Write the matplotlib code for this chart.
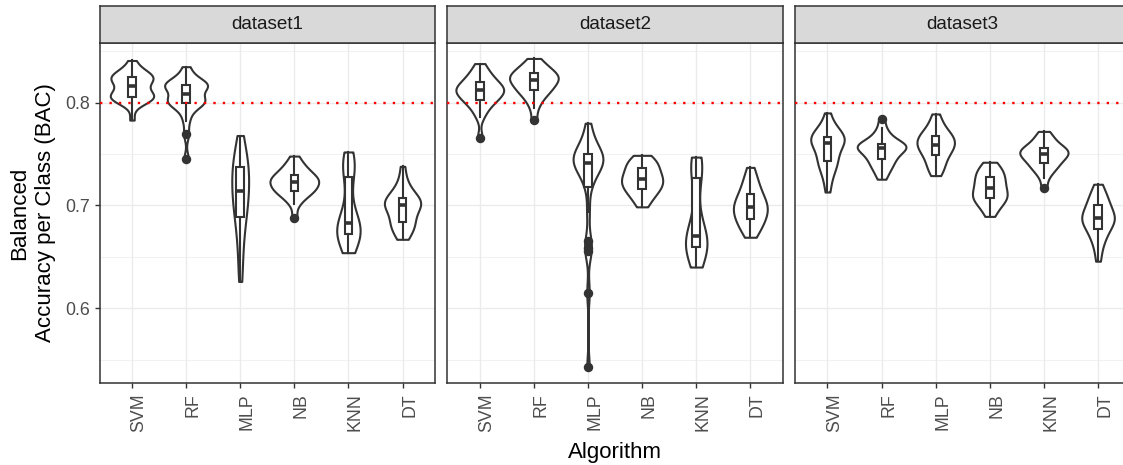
import numpy as np
import matplotlib.pyplot as plt
from matplotlib.transforms import ScaledTranslation

plt.rcParams['font.family'] = ['Liberation Sans', 'DejaVu Sans']

algorithms = ['SVM', 'RF', 'MLP', 'NB', 'KNN', 'DT']
datasets = ['dataset1', 'dataset2', 'dataset3']
threshold = 0.8

d1_svm = [0.783, 0.800, 0.802, 0.803, 0.804, 0.805, 0.805, 0.806, 0.807, 0.808, 0.810, 0.812, 0.816,
          0.819, 0.821, 0.822, 0.823, 0.824, 0.825, 0.826, 0.827, 0.828, 0.830, 0.834, 0.841]
d1_rf = [0.745, 0.769, 0.782, 0.790, 0.795, 0.799, 0.800, 0.800, 0.801, 0.802, 0.803, 0.805, 0.808,
         0.812, 0.815, 0.816, 0.816, 0.817, 0.817, 0.818, 0.819, 0.821, 0.824, 0.828, 0.835]
d1_mlp = [0.626, 0.641, 0.655, 0.667, 0.676, 0.683, 0.689, 0.694, 0.699, 0.703, 0.707, 0.711, 0.714,
          0.718, 0.722, 0.726, 0.729, 0.733, 0.737, 0.740, 0.744, 0.748, 0.753, 0.759, 0.768]
d1_nb = [0.688, 0.701, 0.706, 0.709, 0.711, 0.713, 0.714, 0.716, 0.717, 0.718, 0.720, 0.721, 0.723,
         0.724, 0.725, 0.726, 0.727, 0.728, 0.730, 0.732, 0.734, 0.736, 0.739, 0.742, 0.748]
d1_knn = [0.654, 0.659, 0.663, 0.666, 0.668, 0.670, 0.672, 0.674, 0.676, 0.677, 0.679, 0.681, 0.683,
          0.685, 0.688, 0.693, 0.703, 0.716, 0.728, 0.734, 0.738, 0.741, 0.744, 0.747, 0.752]
d1_dt = [0.667, 0.671, 0.675, 0.678, 0.680, 0.682, 0.684, 0.687, 0.690, 0.693, 0.696, 0.698, 0.700,
         0.701, 0.702, 0.703, 0.704, 0.705, 0.707, 0.709, 0.712, 0.715, 0.719, 0.726, 0.738]

d2_svm = [0.766, 0.786, 0.792, 0.796, 0.799, 0.801, 0.803, 0.805, 0.806, 0.808, 0.809, 0.811, 0.812,
          0.813, 0.814, 0.815, 0.816, 0.818, 0.820, 0.822, 0.824, 0.826, 0.829, 0.833, 0.838]
d2_rf = [0.7835, 0.795, 0.801, 0.805, 0.808, 0.810, 0.812, 0.814, 0.815, 0.817, 0.819, 0.820, 0.822,
         0.823, 0.824, 0.825, 0.826, 0.827, 0.829, 0.830, 0.832, 0.834, 0.836, 0.839, 0.843]
d2_mlp = [0.5425, 0.615, 0.6554, 0.6587, 0.665, 0.694, 0.718, 0.726, 0.731, 0.735, 0.738, 0.740, 0.7415,
          0.743, 0.744, 0.745, 0.746, 0.748, 0.750, 0.752, 0.755, 0.758, 0.763, 0.770, 0.780]
d2_nb = [0.6986, 0.703, 0.707, 0.710, 0.712, 0.714, 0.716, 0.718, 0.719, 0.721, 0.722, 0.724, 0.7255,
         0.727, 0.728, 0.730, 0.732, 0.734, 0.736, 0.738, 0.740, 0.742, 0.744, 0.746, 0.7487]
d2_knn = [0.640, 0.646, 0.650, 0.653, 0.655, 0.658, 0.660, 0.662, 0.664, 0.665, 0.667, 0.669, 0.6706,
          0.673, 0.677, 0.683, 0.695, 0.712, 0.727, 0.733, 0.737, 0.740, 0.742, 0.744, 0.747]
d2_dt = [0.669, 0.673, 0.677, 0.680, 0.682, 0.685, 0.687, 0.689, 0.691, 0.693, 0.695, 0.697, 0.698,
         0.700, 0.702, 0.704, 0.706, 0.708, 0.711, 0.714, 0.717, 0.721, 0.725, 0.730, 0.737]

d3_svm = [0.713, 0.723, 0.730, 0.735, 0.738, 0.741, 0.743, 0.746, 0.749, 0.752, 0.755, 0.758, 0.761,
          0.762, 0.763, 0.764, 0.765, 0.766, 0.767, 0.769, 0.771, 0.773, 0.776, 0.781, 0.790]
d3_rf = [0.7255, 0.731, 0.735, 0.738, 0.740, 0.743, 0.745, 0.747, 0.749, 0.751, 0.752, 0.754, 0.7555,
         0.756, 0.757, 0.758, 0.759, 0.7595, 0.760, 0.762, 0.764, 0.767, 0.770, 0.775, 0.7838]
d3_mlp = [0.729, 0.733, 0.737, 0.740, 0.743, 0.746, 0.749, 0.751, 0.753, 0.755, 0.756, 0.758, 0.759,
          0.761, 0.762, 0.764, 0.765, 0.767, 0.768, 0.770, 0.772, 0.775, 0.778, 0.783, 0.789]
d3_nb = [0.6893, 0.694, 0.698, 0.701, 0.703, 0.705, 0.707, 0.708, 0.709, 0.710, 0.712, 0.714, 0.7167,
         0.718, 0.720, 0.722, 0.724, 0.726, 0.728, 0.730, 0.732, 0.734, 0.736, 0.739, 0.742]
d3_knn = [0.7173, 0.727, 0.732, 0.735, 0.737, 0.739, 0.741, 0.743, 0.745, 0.746, 0.747, 0.749, 0.7502,
          0.751, 0.752, 0.753, 0.754, 0.755, 0.756, 0.758, 0.760, 0.762, 0.765, 0.768, 0.772]
d3_dt = [0.6457, 0.656, 0.663, 0.668, 0.671, 0.674, 0.6774, 0.680, 0.682, 0.684, 0.685, 0.686, 0.6877,
         0.689, 0.691, 0.693, 0.695, 0.697, 0.700, 0.702, 0.705, 0.708, 0.711, 0.715, 0.7206]

groups = {
    'dataset1': [d1_svm, d1_rf, d1_mlp, d1_nb, d1_knn, d1_dt],
    'dataset2': [d2_svm, d2_rf, d2_mlp, d2_nb, d2_knn, d2_dt],
    'dataset3': [d3_svm, d3_rf, d3_mlp, d3_nb, d3_knn, d3_dt],
}

DARK = '#333333'


def bw_nrd0(x):
    sd = x.std(ddof=1)
    q75, q25 = np.percentile(x, [75, 25])
    return 0.9 * min(sd, (q75 - q25) / 1.34) * len(x) ** -0.2


def density(vals, n=512):
    x = np.asarray(vals, dtype=float)
    bw = bw_nrd0(x)
    ys = np.linspace(x.min(), x.max(), n)
    z = (ys[:, None] - x[None, :]) / bw
    d = np.exp(-0.5 * z ** 2).sum(axis=1) / (len(x) * bw * np.sqrt(2 * np.pi))
    return ys, d


W, H = 1123, 465
fig = plt.figure(figsize=(W / 100, H / 100), dpi=100)

lefts = [99.5, 447.3, 795.0]
pw = 335.5
p_top, p_bot = 43, 382.7
s_top = 6

allv = np.concatenate([np.concatenate(g) for g in groups.values()])
pad = (allv.max() - allv.min()) * 0.05
ylim = (allv.min() - pad, allv.max() + pad)

for k, name in enumerate(datasets):
    ax = fig.add_axes([lefts[k] / W, 1 - p_bot / H, pw / W, (p_bot - p_top) / H])
    dens = [density(v) for v in groups[name]]
    top = max(d.max() for _, d in dens)
    for i, (ys, d) in enumerate(dens):
        w = d / top * 0.45
        ax.fill_betweenx(ys, i - w, i + w, facecolor='white', edgecolor=DARK, lw=1.5, zorder=2)

    ax.boxplot(groups[name], positions=range(len(algorithms)), widths=0.14, patch_artist=True,
               showcaps=False, manage_ticks=False, zorder=3,
               boxprops=dict(facecolor='white', edgecolor=DARK, linewidth=1.5),
               whiskerprops=dict(color=DARK, linewidth=1.5),
               medianprops=dict(color=DARK, linewidth=2.6),
               flierprops=dict(marker='o', markerfacecolor=DARK, markeredgecolor=DARK, markersize=5.8))

    ax.axhline(threshold, color='red', lw=1.7, linestyle=(0, (1, 3)), zorder=5)

    ax.set_xlim(-0.6, len(algorithms) - 0.4)
    ax.set_ylim(*ylim)
    ax.set_xticks(range(len(algorithms)))
    ax.set_xticklabels([])
    # rotated category labels, nudged right like the ggplot ones
    lab_tr = ax.get_xaxis_transform() + ScaledTranslation(7 / 100, -10.5 / 100, fig.dpi_scale_trans)
    for i, a in enumerate(algorithms):
        ax.text(i, 0, a, rotation=90, ha='center', va='top', color='#4D4D4D', fontsize=12.8,
                transform=lab_tr, clip_on=False)
    ax.set_yticks([0.6, 0.7, 0.8])
    ax.set_yticks([0.55, 0.65, 0.75, 0.85], minor=True)
    ax.set_yticklabels(['0.6', '0.7', '0.8'], color='#4D4D4D', fontsize=12.8)
    ax.grid(which='major', color='#EBEBEB', lw=0.95)
    ax.grid(which='minor', axis='y', color='#EBEBEB', lw=0.5)
    ax.set_axisbelow(True)
    ax.tick_params(which='major', length=3.8, width=1.0, color=DARK, pad=3)
    ax.tick_params(which='minor', length=0)
    if k > 0:
        ax.tick_params(axis='y', length=0, labelleft=False)
    for sp in ax.spines.values():
        sp.set_color(DARK)
        sp.set_linewidth(1.1)

    sx = fig.add_axes([lefts[k] / W, 1 - p_top / H, pw / W, (p_top - s_top) / H])
    sx.set_facecolor('#D9D9D9')
    sx.set_xticks([])
    sx.set_yticks([])
    for sp in sx.spines.values():
        sp.set_color(DARK)
        sp.set_linewidth(1.1)
    sx.text(0.5, 0.5, name, ha='center', va='center', color='#1A1A1A', fontsize=13.6,
            transform=sx.transAxes)

fig.text(615 / W, 1 - 452 / H, 'Algorithm', ha='center', va='center', fontsize=16)
fig.text(32.5 / W, 1 - 213 / H, 'Balanced\nAccuracy per Class (BAC)', ha='center', va='center',
         rotation=90, multialignment='center', linespacing=1.3, fontsize=16)

fig.savefig('out.png', dpi=100)
